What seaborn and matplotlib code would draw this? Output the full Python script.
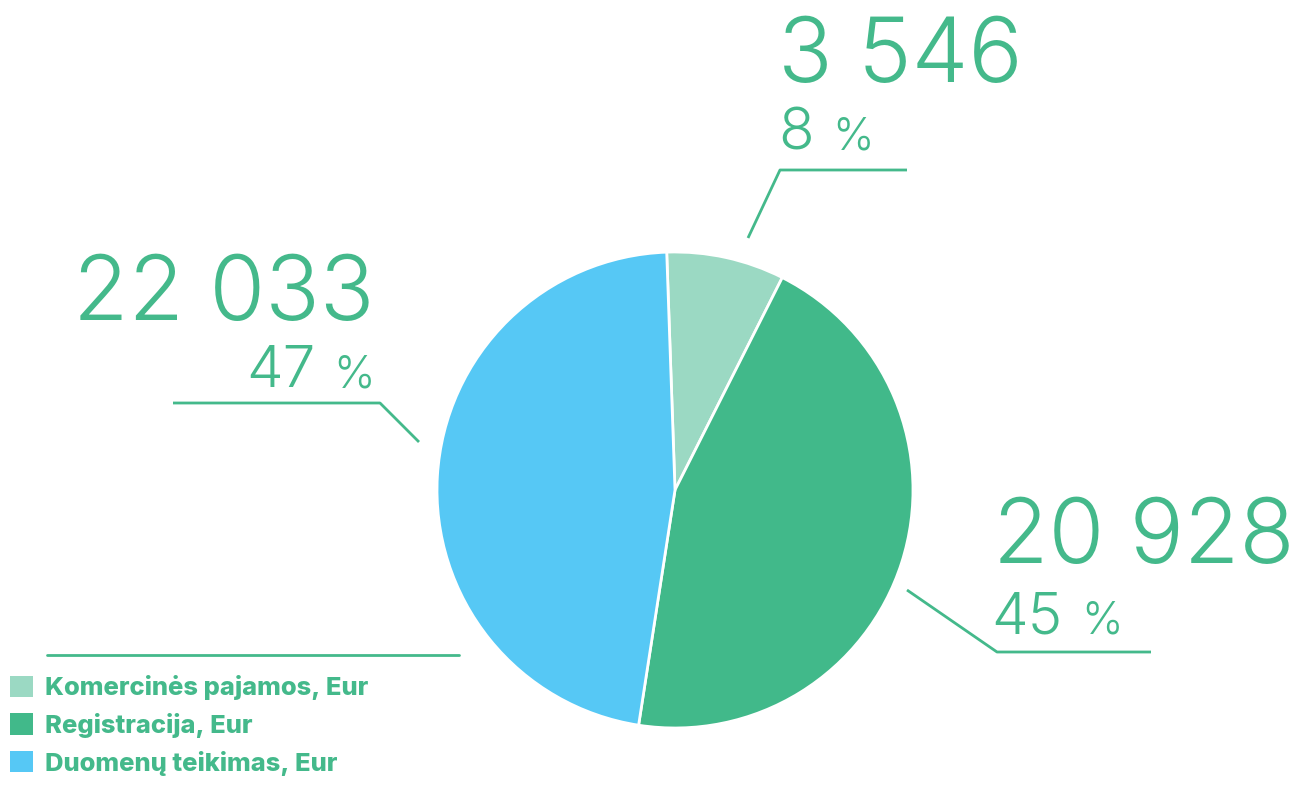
import matplotlib
matplotlib.use("Agg")
import matplotlib.pyplot as plt
import seaborn as sns

sns.set_theme(style="white")

# data
labels = ["Komercinės pajamos, Eur", "Registracija, Eur", "Duomenų teikimas, Eur"]
values = [3546, 20928, 22033]
colors = ["#9BD9C3", "#41B98A", "#56C8F5"]
text_color = "#44B98B"

W, H = 1306, 787
fig = plt.figure(figsize=(W / 100, H / 100), dpi=100)
ax = fig.add_axes([0, 0, 1, 1])


def px(x, y):
    # pixel coords (origin top-left) -> data coords
    return x, H - y


total = sum(values)
pcts = [round(v / total * 100) for v in values]

# the slices in the original follow the rounded percentages
wedges, _ = ax.pie(
    pcts,
    colors=colors,
    startangle=92,
    counterclock=False,
    center=px(675, 490),
    radius=238,
    wedgeprops=dict(edgecolor="white", linewidth=2),
)
ax.set_xlim(0, W)
ax.set_ylim(0, H)
ax.set_aspect("equal")
ax.axis("off")

# label layout: number anchor, percent anchor, leader line, alignment
layout = [
    dict(num=(778, 82), pct=(778, 150), ha="left",
         line=[(748, 238), (780, 170), (907, 170)]),
    dict(num=(993, 563), pct=(991, 634), ha="left",
         line=[(907, 590), (997, 652), (1151, 652)]),
    dict(num=(374, 320), pct=(375, 387), ha="right",
         line=[(419, 442), (380, 403), (173, 403)]),
]

light = dict(family=["Inter", "DejaVu Sans"], fontweight=300, color=text_color)

fig.canvas.draw()
renderer = fig.canvas.get_renderer()
for v, p, lay in zip(values, pcts, layout):
    ax.text(*px(*lay["num"]), f"{v:,}".replace(",", " "), fontsize=65,
            ha=lay["ha"], va="baseline", **light)
    if lay["ha"] == "left":
        t = ax.text(*px(*lay["pct"]), str(p), fontsize=42, ha="left",
                    va="baseline", **light)
        bb = t.get_window_extent(renderer)
        ax.text(bb.x1 + 19, px(*lay["pct"])[1], "%", fontsize=32, ha="left",
                va="baseline", **light)
    else:
        t = ax.text(*px(*lay["pct"]), "%", fontsize=32, ha="right",
                    va="baseline", **light)
        bb = t.get_window_extent(renderer)
        ax.text(bb.x0 - 18, px(*lay["pct"])[1], str(p), fontsize=42, ha="right",
                va="baseline", **light)
    xs, ys = zip(*[px(x, y) for x, y in lay["line"]])
    ax.plot(xs, ys, color=text_color, lw=2, solid_capstyle="butt")

# line above legend
xs, ys = zip(px(47, 655), px(459, 655))
ax.plot(xs, ys, color=text_color, lw=2)

leg = ax.legend(
    wedges, labels,
    loc="upper left",
    bbox_to_anchor=(10 / W, 1 - 675 / H),
    frameon=False,
    borderpad=0, borderaxespad=0,
    handlelength=0.9, handleheight=0.9,
    handletextpad=0.48, labelspacing=0.5,
    prop=dict(family=["Inter", "DejaVu Sans"], weight=800, size=18.4),
    labelcolor=text_color,
)
for h in leg.legend_handles:
    h.set_edgecolor("none")

fig.savefig("out.png", dpi=100)
